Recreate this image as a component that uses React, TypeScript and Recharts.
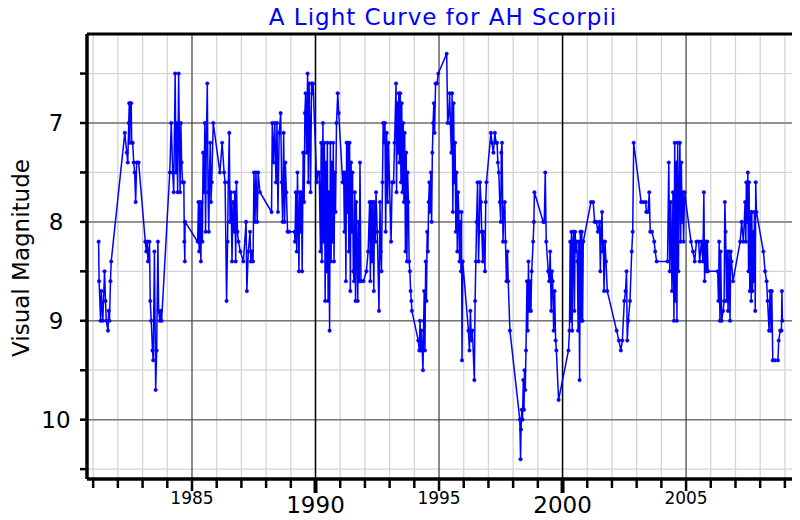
import { CartesianGrid, Line, LineChart, ReferenceLine, XAxis, YAxis } from "recharts"

// observation epochs (decimal years), one observing season per line
const epochs = [
  1981.22, 1981.24, 1981.3, 1981.33, 1981.39, 1981.46, 1981.5, 1981.53, 1981.6, 1981.63, 1981.66, 1981.7, 1981.73,
  1982.28, 1982.36, 1982.4, 1982.44, 1982.46, 1982.48, 1982.5, 1982.54, 1982.56, 1982.6, 1982.64, 1982.68, 1982.72, 1982.76, 1982.84,
  1983.11, 1983.15, 1983.18, 1983.22, 1983.28, 1983.31, 1983.35, 1983.4, 1983.43, 1983.48, 1983.53, 1983.57, 1983.62, 1983.65, 1983.7, 1983.73, 1983.77,
  1984.1, 1984.16, 1984.22, 1984.26, 1984.32, 1984.35, 1984.38, 1984.42, 1984.46, 1984.49, 1984.52, 1984.55, 1984.58, 1984.62, 1984.67, 1984.69, 1984.71, 1984.72,
  1985.23, 1985.26, 1985.29, 1985.32, 1985.36, 1985.39, 1985.42, 1985.45, 1985.49, 1985.52, 1985.55, 1985.58, 1985.62, 1985.65, 1985.68, 1985.71, 1985.74, 1985.77, 1985.8, 1985.86,
  1986.13, 1986.22, 1986.3, 1986.34, 1986.4, 1986.44, 1986.47, 1986.51, 1986.54, 1986.58, 1986.62, 1986.66, 1986.7, 1986.73, 1986.77, 1986.8, 1986.84, 1986.88, 1986.96, 1987.08, 1987.19, 1987.22, 1987.28, 1987.35, 1987.38, 1987.42, 1987.47, 1987.51, 1987.55, 1987.59, 1987.64, 1987.68, 1987.75,
  1988.22, 1988.25, 1988.3, 1988.35, 1988.4, 1988.44, 1988.48, 1988.53, 1988.59, 1988.63, 1988.67, 1988.71, 1988.75, 1988.78, 1988.82, 1988.87, 1988.93,
  1989.15, 1989.17, 1989.2, 1989.24, 1989.27, 1989.33, 1989.36, 1989.4, 1989.43, 1989.46, 1989.5, 1989.54, 1989.57, 1989.6, 1989.64, 1989.68, 1989.71, 1989.74, 1989.77, 1989.8, 1989.84, 1989.87, 1989.9, 1990.05, 1990.1, 1990.15,
  1990.2, 1990.23, 1990.26, 1990.3, 1990.33, 1990.36, 1990.39, 1990.42, 1990.45, 1990.48, 1990.51, 1990.54, 1990.57, 1990.6, 1990.63, 1990.66, 1990.69, 1990.72, 1990.75, 1990.78, 1990.81, 1990.85, 1990.9, 1990.94,
  1991.1, 1991.14, 1991.17, 1991.2, 1991.23, 1991.26, 1991.29, 1991.32, 1991.35, 1991.38, 1991.41, 1991.44, 1991.47, 1991.5, 1991.53, 1991.56, 1991.59, 1991.62, 1991.65, 1991.68, 1991.71, 1991.74, 1991.77, 1991.8, 1991.84, 1991.94,
  1992.06, 1992.13, 1992.19, 1992.22, 1992.25, 1992.29, 1992.32, 1992.36, 1992.39, 1992.42, 1992.45, 1992.5, 1992.57, 1992.61, 1992.64, 1992.67, 1992.71, 1992.74, 1992.78, 1992.81, 1992.84, 1992.88, 1992.92, 1992.95,
  1993.06, 1993.1, 1993.16, 1993.2, 1993.26, 1993.28, 1993.31, 1993.34, 1993.37, 1993.4, 1993.43, 1993.46, 1993.49, 1993.52, 1993.55, 1993.58, 1993.61, 1993.64, 1993.67, 1993.7, 1993.73, 1993.76, 1993.79, 1993.82, 1993.85, 1993.88, 1993.9,
  1994.16, 1994.2, 1994.23, 1994.26, 1994.29, 1994.35, 1994.38, 1994.4, 1994.43, 1994.46, 1994.49, 1994.52, 1994.55, 1994.58, 1994.61, 1994.64, 1994.67, 1994.7, 1994.73, 1994.76, 1994.79, 1994.82, 1994.86, 1994.92, 1994.97, 1995.31,
  1995.35, 1995.4, 1995.43, 1995.46, 1995.5, 1995.53, 1995.56, 1995.59, 1995.62, 1995.65, 1995.68, 1995.71, 1995.74, 1995.77, 1995.8, 1995.83, 1995.86, 1995.89, 1995.91, 1995.93, 1995.96,
  1996.19, 1996.23, 1996.27, 1996.31, 1996.35, 1996.43, 1996.46, 1996.49, 1996.52, 1996.56, 1996.6, 1996.63, 1996.66, 1996.7, 1996.73, 1996.77, 1996.8, 1996.86, 1996.89, 1996.92,
  1997.1, 1997.14, 1997.2, 1997.26, 1997.31, 1997.35, 1997.38, 1997.42, 1997.46, 1997.5, 1997.52, 1997.55, 1997.59, 1997.62, 1997.66, 1997.69, 1997.73, 1997.77, 1997.8, 1997.87,
  1998.27, 1998.3, 1998.32, 1998.35, 1998.38, 1998.41, 1998.44, 1998.46, 1998.49, 1998.52, 1998.56, 1998.59, 1998.62, 1998.65, 1998.68, 1998.72, 1998.75, 1998.81, 1998.84, 1998.86,
  1999.22, 1999.26, 1999.3, 1999.34, 1999.42, 1999.46, 1999.5, 1999.54, 1999.57, 1999.6, 1999.64, 1999.68, 1999.72, 1999.75, 1999.84,
  2000.24, 2000.28, 2000.31, 2000.34, 2000.36, 2000.39, 2000.42, 2000.45, 2000.48, 2000.51, 2000.54, 2000.57, 2000.6, 2000.63, 2000.66, 2000.69, 2000.72, 2000.75, 2000.78, 2000.81, 2000.84,
  2001.15, 2001.24, 2001.3, 2001.37, 2001.43, 2001.5, 2001.53, 2001.56, 2001.6, 2001.62, 2001.65, 2001.68, 2001.72, 2001.76, 2001.81,
  2002.19, 2002.28, 2002.36, 2002.42, 2002.5, 2002.55, 2002.59, 2002.62, 2002.66, 2002.73, 2002.8, 2002.84, 2002.88,
  2003.18, 2003.28, 2003.37, 2003.39, 2003.46, 2003.51, 2003.55, 2003.62, 2003.71, 2003.75, 2003.81, 2004.25,
  2004.3, 2004.34, 2004.38, 2004.43, 2004.47, 2004.51, 2004.54, 2004.57, 2004.6, 2004.63, 2004.66, 2004.69, 2004.72, 2004.75, 2004.78, 2004.81, 2004.84, 2004.87, 2004.9, 2004.94,
  2005.2, 2005.28, 2005.35, 2005.42, 2005.51, 2005.55, 2005.62, 2005.68, 2005.72, 2005.75, 2005.79, 2005.82, 2005.86, 2005.89,
  2006.28, 2006.31, 2006.34, 2006.37, 2006.4, 2006.44, 2006.5, 2006.54, 2006.57, 2006.6, 2006.64, 2006.67, 2006.7, 2006.74, 2006.78, 2006.81, 2006.84, 2006.9,
  2007.19, 2007.25, 2007.32, 2007.39, 2007.42, 2007.44, 2007.47, 2007.5, 2007.53, 2007.55, 2007.58, 2007.61, 2007.64, 2007.66, 2007.69, 2007.72, 2007.74, 2007.77, 2007.8, 2007.82, 2007.85,
  2008.13, 2008.2, 2008.26, 2008.3, 2008.36, 2008.4, 2008.44, 2008.47, 2008.51, 2008.6, 2008.72, 2008.75, 2008.81, 2008.86, 2008.88, 2008.9,
]

// visual magnitudes, same seasons as above
const magnitudes = [
  8.2, 8.6, 9.0, 8.7, 9.0, 8.5, 8.8, 9.0, 9.1, 8.9, 9.0, 8.6, 8.4,
  7.1, 7.3, 7.4, 7.0, 6.8, 7.2, 6.8, 6.8, 7.2, 7.2, 7.4, 7.5, 7.8, 7.4, 7.4,
  8.2, 8.3, 8.2, 8.4, 8.2, 8.8, 9.0, 9.3, 9.4, 8.3, 9.7, 9.3, 8.2, 8.9, 9.0, 8.9, 9.0,
  7.5, 7.0, 7.5, 7.7, 6.5, 7.5, 7.0, 7.7, 6.5, 7.2, 7.7, 7.0, 7.4, 7.6, 7.6, 8.2, 8.4, 8.0,
  8.2, 7.8, 8.3, 7.8, 8.4, 7.8, 8.2, 7.3, 7.7, 7.0, 8.1, 7.2, 6.6, 7.7, 8.1, 7.5, 7.2, 7.8, 7.6, 7.0,
  7.5, 7.2, 7.5, 7.6, 8.8, 8.2, 7.6, 7.1, 8.0, 7.7, 8.4, 7.8, 8.1, 7.7, 8.4, 7.6, 8.1, 8.2, 8.3, 8.4, 8.0, 8.7, 8.3, 8.1, 8.4, 8.3, 8.4, 7.5, 8.0, 7.5, 8.0, 7.5, 7.7,
  7.9, 7.0, 7.4, 7.0, 7.6, 7.0, 7.9, 7.1, 6.9, 7.6, 8.0, 7.1, 8.0, 7.4, 7.7, 8.1, 8.1,
  8.1, 8.2, 7.7, 8.3, 7.5, 8.5, 7.7, 8.1, 7.7, 8.5, 7.3, 7.8, 6.9, 6.7, 7.3, 6.5, 7.6, 6.6, 7.0, 7.7, 6.6, 6.7, 6.6, 7.6, 7.5, 7.5,
  8.3, 7.2, 8.4, 7.0, 8.2, 7.2, 8.8, 7.4, 8.5, 7.2, 8.8, 7.7, 9.1, 7.2, 8.4, 7.4, 8.2, 7.2, 8.4, 7.5, 7.9, 7.0, 6.7, 6.9,
  7.6, 7.5, 8.1, 7.5, 8.6, 7.2, 7.9, 7.2, 8.3, 7.2, 8.7, 7.4, 8.1, 7.5, 8.5, 8.6, 7.7, 8.8, 7.8, 8.3, 8.8, 8.0, 8.6, 7.4, 8.6, 8.6,
  8.5, 8.3, 7.8, 8.6, 7.8, 8.4, 7.8, 8.7, 7.8, 8.2, 7.7, 8.1, 8.9, 7.8, 8.3, 8.5, 7.6, 7.0, 7.2, 7.0, 8.1, 7.1, 7.8, 7.2,
  8.2, 7.6, 7.6, 7.2, 6.6, 7.7, 6.8, 7.3, 6.7, 7.4, 6.7, 7.6, 6.8, 7.7, 7.0, 7.8, 7.1, 8.3, 7.3, 8.4, 7.5, 7.8, 8.4, 8.5, 8.7, 8.8, 8.9,
  9.2, 9.3, 9.0, 9.3, 9.1, 9.5, 9.0, 8.7, 9.3, 8.4, 8.8, 8.1, 8.3, 7.8, 7.6, 7.9, 7.5, 8.0, 7.3, 7.0, 6.8, 7.1, 6.6, 6.6, 6.5, 6.3,
  7.0, 6.9, 6.7, 7.0, 7.3, 6.7, 7.9, 6.8, 7.6, 7.2, 8.1, 7.5, 8.3, 7.7, 7.9, 8.4, 8.0, 8.5, 7.9, 9.4, 8.4,
  9.1, 9.3, 8.9, 9.2, 9.1, 9.6, 8.8, 8.4, 8.0, 7.6, 8.4, 8.1, 7.6, 7.8, 8.1, 8.4, 8.1, 8.5, 7.8, 7.6,
  7.1, 7.2, 7.3, 7.1, 7.2, 7.2, 7.4, 7.5, 7.8, 8.0, 7.3, 7.2, 8.2, 7.9, 7.8, 8.2, 8.6, 8.3, 8.6, 9.1,
  10.0, 10.4, 10.1, 9.9, 10.0, 9.6, 9.9, 9.5, 9.7, 9.3, 8.6, 9.1, 8.4, 8.9, 8.6, 8.9, 8.5, 8.2, 8.0, 7.7,
  8.0, 8.0, 7.5, 8.2, 8.5, 8.6, 8.3, 8.9, 8.5, 8.6, 9.1, 8.7, 9.2, 9.3, 9.8,
  9.3, 9.1, 8.2, 9.0, 8.1, 9.1, 8.2, 8.1, 8.9, 8.1, 8.3, 8.2, 8.4, 9.1, 8.2, 9.6, 8.1, 9.0, 8.1, 9.0, 8.2,
  7.8, 7.8, 8.0, 8.0, 8.1, 8.0, 8.5, 8.1, 7.9, 8.3, 8.2, 8.7, 8.2, 8.4, 8.7,
  9.1, 9.2, 9.3, 9.2, 8.8, 8.7, 8.5, 9.2, 9.0, 8.8, 8.3, 8.1, 7.2,
  7.8, 7.8, 7.8, 7.9, 7.9, 7.7, 8.1, 8.1, 8.2, 8.3, 8.4, 8.4,
  7.4, 8.5, 7.8, 8.7, 7.7, 9.0, 7.2, 8.8, 7.4, 9.0, 7.2, 8.5, 7.7, 7.2, 8.2, 7.4, 8.0, 7.7, 8.2, 7.7,
  8.2, 8.3, 8.4, 8.2, 8.2, 8.4, 8.2, 8.4, 7.7, 8.6, 8.2, 8.5, 8.2, 8.5,
  8.5, 8.8, 8.2, 9.0, 8.3, 9.0, 8.9, 8.8, 7.8, 8.1, 8.8, 8.3, 8.9, 8.3, 9.0, 8.3, 8.4, 8.6,
  8.2, 8.0, 8.2, 7.8, 8.2, 7.6, 8.0, 7.5, 8.5, 7.6, 8.7, 7.9, 8.8, 7.9, 8.7, 8.1, 8.6, 7.9, 8.9, 7.6, 7.9,
  8.3, 8.5, 8.6, 8.8, 9.1, 8.7, 9.1, 8.7, 9.4, 9.4, 9.4, 9.2, 9.1, 9.1, 8.7, 9.0,
]

const yearTicks = [
  1981, 1982, 1983, 1984, 1985, 1986, 1987, 1988, 1989, 1990, 1991, 1992, 1993, 1994, 1995,
  1996, 1997, 1998, 1999, 2000, 2001, 2002, 2003, 2004, 2005, 2006, 2007, 2008, 2009,
]
const magTicks = [6.5, 7, 7.5, 8, 8.5, 9, 9.5, 10, 10.5]
const wholeMags = [7, 8, 9, 10]
const fiveYears = [1985, 1995, 2005]
const decades = [1990, 2000]

const data = epochs.map((t, i) => ({ t, mag: magnitudes[i] }))

const FONT = "'DejaVu Sans', Verdana, sans-serif"

function YearTick(props: any) {
  const { x, y, payload } = props
  const yr = payload.value
  const decade = yr % 10 === 0
  const five = yr % 5 === 0
  return (
    <g>
      <line x1={x} x2={x} y1={y} y2={y + (decade ? 14 : five ? 12 : 9)} stroke="#000" strokeWidth={decade ? 4 : 2.5} />
      {five && (
        <text x={x} y={y + (decade ? 34 : 25)} textAnchor="middle" fontSize={decade ? 23 : 17} fontFamily={FONT} fill="#000">
          {yr}
        </text>
      )}
    </g>
  )
}

function MagTick(props: any) {
  const { x, y, payload } = props
  const v = payload.value
  const whole = Number.isInteger(v)
  return (
    <g>
      <line x1={x} x2={x - 7} y1={y} y2={y} stroke="#000" strokeWidth={2.5} />
      {whole && (
        <text x={x - 31} y={y} dy="0.36em" textAnchor="middle" fontSize={23} fontFamily={FONT} fill="#000">
          {v}
        </text>
      )}
    </g>
  )
}

export default function App() {
  return (
    <div style={{ position: "relative", width: 792, height: 512, background: "#fff" }}>
      <div
        style={{
          position: "absolute", left: 0, width: 870, top: -4, lineHeight: "26px", textAlign: "center",
          fontFamily: FONT, fontSize: 23, letterSpacing: 1, color: "#0000ff", whiteSpace: "nowrap",
        }}
      >
        A Light Curve for AH Scorpii
      </div>
      <div style={{ position: "absolute", left: 13, top: 250, width: 0, height: 0 }}>
        <div
          style={{
            position: "absolute", transform: "translate(-50%, -50%) rotate(-90deg)",
            fontFamily: FONT, fontSize: 23, color: "#000", whiteSpace: "nowrap",
          }}
        >
          Visual Magnitude
        </div>
      </div>
      <LineChart width={792} height={512} data={data} margin={{ top: 26, right: 4, left: 0, bottom: 0 }}>
        <CartesianGrid stroke="#d4d4d4" strokeWidth={1.3} horizontal vertical />
        {wholeMags.map((m) => (
          <ReferenceLine key={"m" + m} y={m} stroke="#777" strokeWidth={1.5} />
        ))}
        {fiveYears.map((yr) => (
          <ReferenceLine key={"f" + yr} x={yr} stroke="#333" strokeWidth={1} />
        ))}
        {decades.map((yr) => (
          <ReferenceLine key={"d" + yr} x={yr} stroke="#000" strokeWidth={1.5} />
        ))}
        <ReferenceLine y={6.1} stroke="#000" strokeWidth={3} />
        <ReferenceLine x={2009.45} stroke="#000" strokeWidth={3} />
        <XAxis
          dataKey="t"
          type="number"
          domain={[1980.75, 2009.45]}
          ticks={yearTicks}
          allowDataOverflow
          height={41}
          tickSize={0}
          tickMargin={0}
          tickLine={false}
          axisLine={{ stroke: "#000", strokeWidth: 3.5 }}
          tick={<YearTick />}
          interval={0}
        />
        <YAxis
          type="number"
          domain={[6.1, 10.6]}
          reversed
          ticks={magTicks}
          allowDataOverflow
          width={79}
          tickSize={0}
          tickMargin={0}
          tickLine={false}
          axisLine={{ stroke: "#000", strokeWidth: 3.5 }}
          tick={<MagTick />}
          interval={0}
        />
        <Line
          type="linear"
          dataKey="mag"
          stroke="#0000ff"
          strokeWidth={1.5}
          dot={{ r: 1.8, fill: "#0000ff", stroke: "#0000ff", strokeWidth: 0.4 }}
          isAnimationActive={false}
        />
      </LineChart>
    </div>
  )
}
